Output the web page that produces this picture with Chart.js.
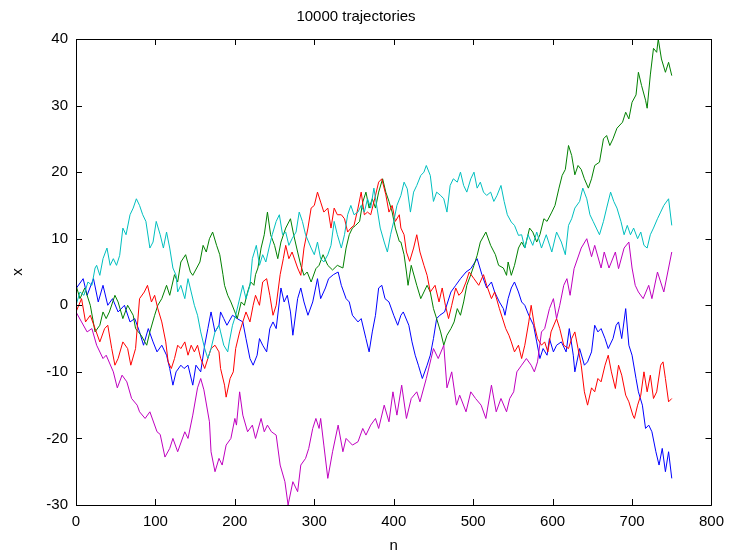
<!DOCTYPE html>
<html>
<head>
<meta charset="utf-8">
<script src="https://cdn.jsdelivr.net/npm/chart.js@4.4.1/dist/chart.umd.min.js"></script>
<style>
  html, body { margin: 0; padding: 0; background: #fff; }
  #wrap { width: 732px; height: 558px; }
</style>
</head>
<body>
<div id="wrap"><canvas id="c" width="732" height="558"></canvas></div>
<script>
// ---- Data (step index n, position x) ----
const blueN = [0,9,14,22,28,34,40,46,53,61,68,74,80,85,91,97,102,108,114,118,122,126,132,136,141,147,151,157,162,166,170,175,180,182,186,190,197,203,210,214,219,223,228,231,235,240,244,248,252,258,262,266,270,273,279,283,287,292,298,304,308,314,318,324,330,334,340,344,348,355,359,365,369,373,377,381,385,389,394,400,405,409,412,419,423,427,431,436,442,446,450,454,458,464,472,478,484,491,497,505,511,517,523,527,533,538,540,544,548,552,557,561,565,570,576,580,584,588,593,596,601,605,611,617,621,626,628,634,640,644,649,653,657,661,666,670,676,680,683,687,692,696,700,705,708,713,717,721,725,730,734,738,742,746,750];
const blueX = [2.5,4,1.5,4,0.5,3,0,1,-1,0,-2.5,-2,-4,-6,-3.5,-5.5,-7,-6,-7.5,-9.5,-12,-10,-9,-9.5,-9,-12,-9,-10,-6,-3.5,-1,-4,-3,-1,-2,-3,-1.5,-2,-2.5,-5,-8,-9,-7.5,-5,-6,-7,-3.5,-2.5,-3.5,2.6,0.5,1.5,-1,-4.5,1,2.6,0.5,-1.5,0.5,4,1,2.6,4,4.6,5,3,1,0.5,-1.5,-2.5,-2,-5,-7,-4,-1.5,2.6,3,1,0.5,-1.5,-3,-1.5,-1,-3,-5.5,-7.5,-9,-11,-9,-7.5,-5,-2,-1.5,-1,2,3,4,5,5.5,7,4.6,2.6,3.5,2,0.5,-0.5,-1.5,1,2.6,3.5,2,0.5,0,-1.5,-3,-5.5,-8,-6.5,-7.5,-5,-7,-6,-5.5,-7,-3.5,-7.5,-10,-6.5,-9,-8.5,-7,-3,-4,-3.5,-5,-6.5,-5,-3,-2.5,-5,-0.5,-6,-7.5,-11,-13,-15,-18.5,-18,-19,-22,-24,-21.5,-25,-22,-26];

const greenN = [0,5,11,18,24,30,34,38,42,49,53,59,65,72,75,82,89,93,99,103,108,114,118,124,128,132,138,144,147,156,160,164,168,172,177,181,185,187,191,195,200,203,208,212,216,220,224,226,229,233,237,241,245,250,254,258,264,270,274,279,283,287,291,296,302,306,311,317,323,329,336,340,344,348,352,357,361,365,369,373,377,381,386,390,394,398,402,407,409,413,416,418,422,429,434,438,442,446,450,454,459,463,467,472,476,480,484,488,492,497,501,505,509,516,522,528,532,538,542,544,548,552,557,561,565,571,575,580,584,589,593,599,603,608,612,616,620,624,628,632,636,640,645,649,653,659,664,668,672,676,681,688,692,696,700,705,708,712,717,719,723,727,731,733,737,742,746,750];
const greenX = [3,1,2.6,0,-4,-3,-1,-2,-1,1.5,0.5,-2,0,-1.5,-3.5,-4.5,-6,-4,-1.5,0,1,3,1.5,4.6,3.5,6.5,7.6,5,4.5,6.5,9,8,10,11,9,7.6,4.6,3,1.5,0.5,-1,-2,0.5,0,2,3.5,3,4.6,5.6,8.6,10.6,14,10.6,9,7,9.5,11.6,13,10.6,8,6,4.5,5,3.5,5.5,6,7.6,6,5.3,6,5.6,8.6,10.6,11.6,12,12.6,15.5,17,14.6,16,14.6,17,19,17,15.6,14,11.6,9.6,9.5,7.6,5,3,6,3,1,2,3,2,-0.5,-2,-4,-6,-4.5,-3.5,-2.5,-0.5,-1.5,0.5,3,4.6,6,7.5,9.5,11,9,7.6,6,5.6,4.5,6.5,4.5,6,8.6,9.5,8.6,11.6,11,9.5,10.6,13,12.6,14,15,17.6,19.5,20.4,24,22.5,19.6,21,20.4,19,17.6,19,21,21.5,25,25.5,24,25,26.6,27.5,29,28,30.5,31.6,35,33,30.8,29.6,34.6,38.6,38,40,37,35,36.5,34.5];

const redN = [0,7,12,18,24,30,36,40,45,49,53,59,65,69,75,80,86,90,95,99,103,108,113,116,120,124,128,132,137,141,145,149,153,157,162,166,170,175,180,182,187,189,194,198,201,206,210,214,219,223,226,231,235,240,244,248,252,257,261,264,268,272,279,283,287,292,296,300,304,308,312,317,321,325,329,334,338,342,346,350,355,359,363,367,371,376,381,385,390,394,398,402,407,409,413,416,420,425,429,433,438,442,446,452,457,461,465,469,473,478,482,486,491,495,501,507,513,517,523,527,533,541,545,548,552,557,561,565,570,573,577,581,586,590,594,598,605,609,614,620,624,628,632,636,640,644,649,653,657,661,666,670,674,679,683,687,692,696,701,703,707,711,715,719,723,727,731,736,739,742,746,750];
const redX = [-1,1,-2.5,-1.5,-3.5,-5.5,-3.5,-3,-6.5,-9,-8,-5.5,-6.5,-9,-6.5,1,2,3,0.5,1.5,-0.5,-2.5,-5.5,-8.5,-9.5,-8,-6,-6.5,-5.5,-7.5,-6,-7,-6,-8,-9.5,-8,-6.5,-6,-7,-9.5,-12,-13.8,-11,-10,-6.5,-4,-2.5,-1,-2.5,0,1.5,0,3.5,4,1.5,-1.5,0,4.6,7,9,7,8,5.6,4.5,8.6,11.6,14.6,15,17,15.5,14,14.6,11.6,14.6,13.6,13.6,13,11,11.6,12,14.6,17,13.6,14,13.6,16,18.5,19,16.6,14,15,12.6,13.6,11.6,10.6,8,6.6,8.6,10.6,8,6,4.5,2,3,0.5,2.6,0,-2,0,2.6,1.5,2,3.5,5,4,3,4.6,3,1,2,-0.5,-3.5,-4.5,-5.5,-7,-6,-8,-6,-2.5,0,-3,-5,-6,-5.5,-7,-4,-2,-3.5,-6,-6.5,-5,-4,-6.5,-9,-13,-15,-12.4,-13,-11,-11.5,-9,-7.5,-10,-12.5,-9,-10.5,-13.5,-14.5,-16.5,-17,-15,-13.5,-10,-13,-10.5,-14,-13,-9,-8.5,-11,-14.5,-14];

const cyanN = [0,5,10,15,20,24,26,30,34,39,43,47,51,55,59,63,68,72,76,80,84,88,93,97,101,106,110,114,118,122,126,128,132,137,141,145,149,153,157,162,166,170,175,180,182,186,191,193,197,201,205,210,214,219,222,227,231,235,239,243,247,252,256,260,264,268,272,277,281,285,289,296,300,304,308,312,317,321,325,329,334,338,342,346,350,355,359,363,367,371,375,379,383,388,392,396,400,404,409,413,417,421,425,429,434,438,441,446,450,454,459,463,467,471,475,480,484,488,492,497,501,505,509,513,517,522,526,530,535,539,543,548,552,557,561,565,569,575,580,586,592,599,605,611,616,620,624,628,634,638,643,647,651,655,659,664,668,673,677,681,686,690,694,698,702,707,711,715,719,723,727,732,736,740,746,750];
const cyanX = [0,2,1.5,3.5,3,5.6,6,4.5,7,8.6,6,7,6,7.5,11.6,10.6,13.6,14.6,16,15,13.6,12.6,8.6,9.5,12.6,10.6,8.6,11,8.6,5.6,4.5,2,3,1,4,2,0,-1.5,-4,-6.5,-8,-6.5,-4,-3,-4,-6,-7,-5.5,-3,-1.5,0.5,3,1,3,7,9,6,7.6,6.5,8.6,10.6,12.6,13.6,10.6,11,9,10,11,14,12.6,10.6,8.6,7.6,9.5,7,6.5,7.6,9,12.6,10.6,8.6,10.6,13.6,15,13.6,14,15,14,16,14.6,17.6,14.6,11.6,9.5,8,10.6,12.6,15,16.5,18.5,17.5,14,17,18,19.5,20,21,19.5,15.6,17,16.5,16,14,18,19,18.5,20,18,17,19,20,17.6,18.5,17,16.5,17,15.6,16.5,18,15.6,13.6,12.5,12,10.5,10.6,8.6,10.6,9,11,8.6,10.6,8,11,9.5,7.6,12,13,14.6,15.6,17.6,16,13.6,12.6,11.6,10.6,12.6,14.6,17,15.6,14.6,12.6,10.6,12,10.6,11.6,10,11,9,8.6,10.6,11.6,13,14,15,16,12];

const magentaN = [0,7,14,20,26,34,38,47,52,58,64,70,77,80,87,93,102,106,112,118,122,128,137,141,147,153,157,161,168,170,175,180,184,189,195,200,202,206,210,216,222,226,233,237,241,246,252,257,263,267,273,279,283,289,293,298,302,306,308,312,317,323,330,336,340,348,355,361,365,371,377,381,388,394,399,404,410,416,422,429,433,441,447,450,456,463,467,473,479,483,491,497,503,510,516,523,529,535,542,546,551,555,561,567,573,577,581,586,590,596,601,605,609,614,618,622,627,636,643,649,653,661,665,671,679,683,690,696,700,704,708,714,721,725,732,740,746,750];
const magentaX = [-1,-2.5,-4,-3.5,-6,-8,-7.5,-10,-12.4,-10.5,-11.5,-14,-15,-16,-17,-16,-19,-19.4,-22.8,-21.5,-20,-22,-19,-20,-16.5,-12.4,-11,-12.7,-17.5,-22,-25,-23,-24,-21,-20,-17,-18,-13,-16.5,-19,-18,-20,-17,-19,-18,-19,-19.5,-24,-26.5,-30,-26.5,-28,-24,-23,-21.5,-18.5,-17,-18.5,-17,-21,-26,-22,-18,-22,-20,-21,-20.5,-18.5,-19.5,-18,-17,-18.5,-15,-17.5,-13,-16.5,-12,-17,-14,-13,-14.5,-11,-8,-6.5,-8,-6,-12.4,-10,-15,-13.5,-16,-13,-14,-15,-17,-12,-16,-14,-16,-14,-13,-10,-9,-8,-9,-10,-8.5,-4,-3.5,-0.5,1,-2,0,3,4,1.5,5.5,8.6,10,7.3,9,5.6,8,5.6,8,5.5,8.6,9.5,5.6,3,2,1,3,1,5,2,5.6,8];

// Axis ticks
const xTicks = [0,100,200,300,400,500,600,700,800];
const yTicks = [-30,-20,-10,0,10,20,30,40];

const titleText = '10000 trajectories';
const xLabel = 'n';
const yLabel = 'x';

// ---- build ----
function pts(ns, xs) { return ns.map((n, i) => ({ x: n, y: xs[i] })); }
const series = [
  { label: 'm', n: magentaN, v: magentaX, color: '#BF00BF' },
  { label: 'c', n: cyanN, v: cyanX, color: '#00BFBF' },
  { label: 'r', n: redN, v: redX, color: '#FF0000' },
  { label: 'g', n: greenN, v: greenX, color: '#008000' },
  { label: 'b', n: blueN, v: blueX, color: '#0000FF' }
];

const FONT = 'Liberation Sans, Arial, Helvetica, sans-serif';

const boxTicks = {
  id: 'boxTicks',
  afterDatasetsDraw(chart) {
    const { ctx, chartArea: a, scales: { x, y } } = chart;
    ctx.save();
    ctx.strokeStyle = '#000';
    ctx.lineWidth = 1;
    ctx.beginPath();
    ctx.rect(Math.round(a.left) + 0.5, Math.round(a.top) + 0.5, Math.round(a.right - a.left), Math.round(a.bottom - a.top));
    ctx.stroke();
    const L = 6;
    ctx.beginPath();
    xTicks.forEach(t => {
      const p = Math.round(x.getPixelForValue(t)) + 0.5;
      ctx.moveTo(p, a.bottom); ctx.lineTo(p, a.bottom - L);
      ctx.moveTo(p, a.top); ctx.lineTo(p, a.top + L);
    });
    yTicks.forEach(t => {
      const p = Math.round(y.getPixelForValue(t)) + 0.5;
      ctx.moveTo(a.left, p); ctx.lineTo(a.left + L, p);
      ctx.moveTo(a.right, p); ctx.lineTo(a.right - L, p);
    });
    ctx.stroke();
    ctx.restore();
  }
};

new Chart(document.getElementById('c'), {
  type: 'line',
  data: {
    datasets: series.map(s => ({
      label: s.label,
      data: pts(s.n, s.v),
      borderColor: s.color,
      backgroundColor: s.color,
      borderWidth: 1,
      pointRadius: 0,
      tension: 0,
      fill: false
    }))
  },
  options: {
    responsive: false,
    animation: false,
    devicePixelRatio: 1,
    layout: { padding: { left: 0, right: 20, top: 0, bottom: 0 } },
    plugins: {
      legend: { display: false },
      tooltip: { enabled: false },
      title: {
        display: true,
        text: titleText,
        color: '#000',
        font: { family: FONT, size: 15, weight: 'normal', lineHeight: 1.2 },
        padding: { top: 8, bottom: 13 }
      }
    },
    scales: {
      x: {
        type: 'linear',
        min: 0, max: 800,
        afterFit(s) { s.height = 53; },
        afterBuildTicks(s) { s.ticks = xTicks.map(v => ({ value: v })); },
        grid: { display: false, drawTicks: false },
        border: { display: false },
        ticks: { color: '#000', padding: 8, font: { family: FONT, size: 15 }, maxRotation: 0 },
        title: { display: true, text: xLabel, color: '#000', font: { family: FONT, size: 15 }, padding: { top: 0, bottom: 3 } }
      },
      y: {
        type: 'linear',
        min: -30, max: 40,
        afterFit(s) { s.width = 76; },
        afterBuildTicks(s) { s.ticks = yTicks.map(v => ({ value: v })); },
        grid: { display: false, drawTicks: false },
        border: { display: false },
        ticks: { color: '#000', padding: 8, font: { family: FONT, size: 15 } },
        title: { display: true, text: yLabel, color: '#000', font: { family: FONT, size: 15 }, padding: { top: 9, bottom: 0 } }
      }
    }
  },
  plugins: [boxTicks]
});
</script>
</body>
</html>
